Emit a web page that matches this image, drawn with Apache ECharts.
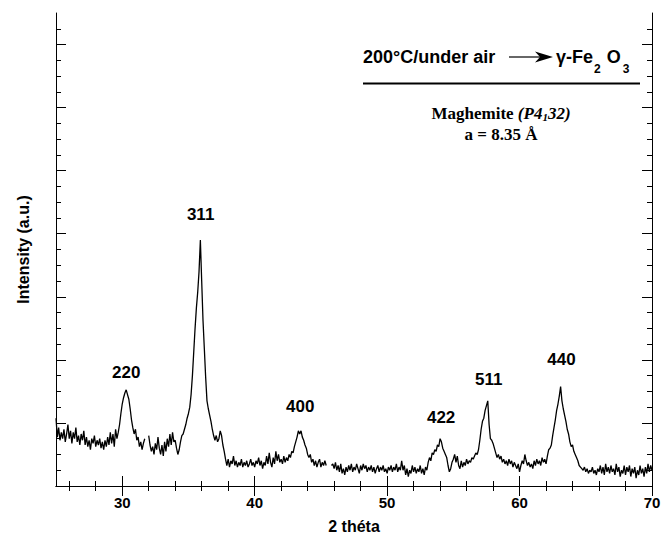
<!DOCTYPE html>
<html>
<head>
<meta charset="utf-8">
<script src="https://cdn.jsdelivr.net/npm/echarts@6/dist/echarts.min.js"></script>
<style>
  html, body { margin: 0; padding: 0; background: #fff; }
  #chart_xrd { width: 664px; height: 542px; }
</style>
</head>
<body>
<div id="chart_xrd"></div>
<script>
// 2θ grid of the scan (degrees)
const thetaStart = 25;
const thetaStep = 0.1;
// intensity in a.u. (1 unit = 1 minor tick), null = gap in the recorded scan
const intensity = [
  4.3, 3.1, 3.7, 2.9, 3.4, 3.0, 3.6, 2.8, 3.3, 3.9, // 25
  3.0, 3.5, 2.7, 3.4, 3.0, 3.7, 2.8, 3.2, 2.6, 3.3, // 26
  2.9, 3.5, 2.6, 3.1, 2.5, 2.9, 2.3, 3.0, 2.7, 3.2, // 27
  2.5, 2.9, 2.6, 3.0, 2.4, 2.8, 2.3, 2.9, 2.5, 3.1, // 28
  2.6, 3.4, 2.7, 3.3, 2.5, 3.6, 3.0, 3.4, 3.9, 4.6, // 29
  5.2, 5.6, 5.9, 6.1, 5.8, 5.5, 4.9, 4.2, 3.7, 3.3, // 30
  3.6, 2.9, 3.1, 2.5, 2.8, 2.3, 2.7, 3.0, null, null, // 31
  3.2, 2.6, 2.2, 2.5, 2.0, 2.7, 2.3, 3.1, 2.4, 2.0, // 32
  2.6, 1.9, 2.8, 2.2, 3.0, 2.5, 3.3, 2.6, 3.4, 2.8, // 33
  2.9, 2.4, 2.0, 2.3, 2.8, 3.2, 3.3, 3.6, 3.9, 4.3, // 34
  4.6, 5.0, 5.8, 7.0, 8.5, 10.0, 11.3, 12.3, 13.6, 15.6, // 35
  13.0, 10.5, 8.7, 6.9, 5.4, 4.9, 4.5, 4.1, 3.6, 3.2, // 36
  2.9, 3.2, 2.8, 3.0, 3.5, 3.2, 2.6, 2.2, 1.7, 1.3, // 37
  1.7, 1.2, 1.6, 1.4, 1.9, 1.3, 1.6, 1.2, 1.5, 1.3, // 38
  1.7, 1.2, 1.5, 1.3, 1.6, 1.2, 1.4, 1.7, 1.3, 1.5, // 39
  1.2, 1.6, 1.4, 1.8, 1.3, 1.6, 1.1, 1.5, 1.3, 1.9, // 40
  1.4, 2.1, 1.5, 1.2, 1.8, 1.4, 2.2, 1.6, 2.0, 1.5, // 41
  1.7, 1.4, 1.9, 1.5, 1.8, 1.6, 2.0, 1.8, 2.2, 2.1, // 42
  2.5, 2.8, 3.1, 3.5, 3.3, 3.5, 3.1, 2.9, 2.6, 2.4, // 43
  2.0, 1.8, 2.0, 1.5, 1.7, 1.3, 1.6, 1.2, 1.5, 1.7, // 44
  1.2, 1.5, 1.3, 1.6, 1.3, null, null, null, 1.3, 1.4, // 45
  1.1, 1.5, 1.0, 1.3, 0.9, 1.4, 0.8, 1.1, 0.7, 1.2, // 46
  0.9, 1.3, 1.0, 1.4, 0.9, 1.2, 1.0, 1.4, 1.1, 0.8, // 47
  1.3, 1.0, 1.4, 1.1, 1.3, 0.9, 1.2, 1.0, 1.3, 0.9, // 48
  1.2, 0.8, 1.1, 1.3, 0.9, 1.2, 1.0, 1.3, 0.9, 1.1, // 49
  0.8, 1.2, 1.0, 1.3, 0.9, 1.2, 1.0, 1.4, 0.9, 1.2, // 50
  1.0, 1.6, 1.0, 1.3, 0.7, 1.1, 0.6, 1.0, 0.8, 1.3, // 51
  0.9, 1.2, 0.8, 1.1, 0.9, 1.3, 0.8, 1.1, 0.7, 1.2, // 52
  1.0, 1.5, 1.8, 1.6, 2.1, 2.0, 2.3, 2.2, 2.6, 2.5, // 53
  3.0, 2.8, 2.4, 2.2, 2.0, 1.8, 1.3, 0.9, 1.1, 1.5, // 54
  1.7, 2.0, 1.5, 1.9, 1.3, 1.1, 1.6, 1.2, 1.5, 1.3, // 55
  1.7, 1.4, 1.6, 1.5, 1.8, 1.7, 1.9, 2.1, 2.0, 2.3, // 56
  2.9, 3.6, 4.1, 4.3, 4.8, 5.1, 5.4, 3.9, 3.0, 2.9, // 57
  2.7, 2.4, 2.1, 1.8, 2.0, 1.7, 1.9, 1.5, 1.7, 1.4, // 58
  1.6, 1.3, 1.7, 1.4, 1.6, 1.2, 1.5, 1.3, 1.1, 1.4, // 59
  0.9, 1.3, 1.6, 1.4, 2.0, 1.6, 1.3, 1.5, 1.2, 1.4, // 60
  1.1, 1.6, 1.3, 1.7, 1.4, 1.6, 1.3, 1.8, 1.5, 1.7, // 61
  1.4, 1.9, 2.3, 2.4, 2.6, 3.2, 3.7, 4.2, 4.8, 5.2, // 62
  5.7, 6.3, 5.4, 4.9, 4.5, 4.1, 3.6, 3.3, 2.8, 2.5, // 63
  2.6, 2.2, 2.0, 1.8, 1.6, 1.3, 1.2, 1.1, 1.0, 1.2, // 64
  0.9, 1.1, 0.8, 1.0, 0.9, 1.2, 0.8, 1.0, 0.7, 1.1, // 65
  0.9, 1.3, 0.8, 1.2, 0.7, 1.4, 0.9, 1.2, 0.8, 1.3, // 66
  0.9, 1.1, 0.7, 1.4, 0.9, 1.2, 0.6, 1.0, 0.8, 1.3, // 67
  0.7, 1.2, 0.9, 1.3, 0.6, 1.1, 0.8, 1.2, 0.5, 1.0, // 68
  0.7, 1.3, 0.8, 1.1, 0.6, 1.2, 0.8, 1.4, 0.9, 1.3, // 69
  1.0                                                // 70
];

// Miller indices written above the peaks, and where their labels sit
const peakNames = ["220", "311", "400", "422", "511", "440"];
const peakLabelTheta = [30.3, 35.92, 43.44, 54.08, 57.68, 63.16];
const peakLabelY = [7.17, 17.23, 5.06, 4.32, 6.75, 8.03];

// tick positions
const xMajorTicks = [30, 40, 50, 60, 70];
const xMinorTicks = [26, 28, 32, 34, 36, 38, 42, 44, 46, 48, 52, 54, 56, 58, 62, 64, 66, 68];
const yMajorTicks = [4, 8, 12, 16, 20, 24, 28];
const yMinorTicks = [1, 2, 3, 5, 6, 7, 9, 10, 11, 13, 14, 15, 17, 18, 19, 21, 22, 23, 25, 26, 27, 29];

const SANS = '"Liberation Sans", Arial, sans-serif';
const SERIF = '"Liberation Serif", "Times New Roman", serif';

const chart = echarts.init(document.getElementById("chart_xrd"), null, { renderer: "svg" });

const scan = intensity.map((v, i) => [+(thetaStart + i * thetaStep).toFixed(1), v === null ? "-" : v]);

function xAx(pos, ticks, len, withLine, withLabels) {
  return {
    type: "value", position: pos, min: 25, max: 70,
    splitLine: { show: false },
    axisLine: { show: withLine, lineStyle: { color: "#000", width: 1 } },
    axisTick: { show: true, inside: true, length: len, customValues: ticks, lineStyle: { color: "#000", width: 1 } },
    axisLabel: withLabels
      ? { show: true, customValues: ticks, margin: 9, color: "#000", fontSize: 15, fontWeight: "bold", fontFamily: SANS }
      : { show: false }
  };
}
function yAx(pos, ticks, len, withLine) {
  return {
    type: "value", position: pos, min: 0, max: 30,
    splitLine: { show: false },
    axisLine: { show: withLine, onZero: false, lineStyle: { color: "#000", width: 1 } },
    axisTick: { show: true, inside: true, length: len, customValues: ticks, lineStyle: { color: "#000", width: 1 } },
    axisLabel: { show: false }
  };
}

const xAxes = [
  xAx("bottom", xMajorTicks, 10, true, true),
  xAx("bottom", xMinorTicks, 5, false, false),
  xAx("top", xMajorTicks, 10, true, false),
  xAx("top", xMinorTicks, 5, false, false)
];
xAxes[0].name = "2 théta";
xAxes[0].nameLocation = "middle";
xAxes[0].nameGap = 32;
xAxes[0].nameTextStyle = { color: "#000", fontSize: 16, fontWeight: "bold", fontFamily: SANS };

const yAxes = [
  yAx("left", yMajorTicks, 10, true),
  yAx("left", yMinorTicks, 5, false),
  yAx("right", yMajorTicks, 10, true),
  yAx("right", yMinorTicks, 5, false)
];
yAxes[0].name = "Intensity (a.u.)";
yAxes[0].nameLocation = "middle";
yAxes[0].nameGap = 25;
yAxes[0].nameTextStyle = { color: "#000", fontSize: 16, fontWeight: "bold", fontFamily: SANS };

// annotation block in the upper right corner
const ctx = document.createElement("canvas").getContext("2d");
function textW(font, s) { ctx.font = font; return ctx.measureText(s).width; }

const fMain = "bold 18px " + SANS;
const fSub = "bold 12px " + SANS;
const fSerif = "bold 17px " + SERIF;
const fSerifIt = "italic bold 17px " + SERIF;
const fSerifSub = "italic bold 11px " + SERIF;

function txt(x, y, s, font, align) {
  return { type: "text", x: x, y: y, silent: true,
    style: { text: s, font: font, fill: "#000", align: align || "left", verticalAlign: "middle" } };
}

// γ-Fe2O3 laid out piece by piece so the indices sit low
const formulaPieces = [["γ-Fe", fMain, 0, 1], ["2", fSub, 12, 6], ["O", fMain, 0, 2], ["3", fSub, 12, 0]];
let fx = 556;
const formulaGraphics = formulaPieces.map(p => {
  const g = txt(fx, 57 + p[2], p[0], p[1]);
  fx += textW(p[1], p[0]) + p[3];
  return g;
});

const maghPieces = [["Maghemite ", fSerif, 0], ["(P4", fSerifIt, 0], ["1", fSerifSub, 3], ["32)", fSerifIt, 0]];
const maghWidth = maghPieces.reduce((s, p) => s + textW(p[1], p[0]), 0);
let mx = 501 - maghWidth / 2;
const maghGraphics = maghPieces.map(p => {
  const g = txt(mx, 113.5 + p[2], p[0], p[1]);
  mx += textW(p[1], p[0]);
  return g;
});

const graphics = [
  txt(363, 57, "200°C/under air", fMain),
  { type: "line", silent: true, shape: { x1: 509, y1: 57, x2: 541, y2: 57 }, style: { stroke: "#000", lineWidth: 1.2 } },
  { type: "polygon", silent: true, shape: { points: [[535, 51.5], [553, 57], [535, 62.5], [540, 57]] }, style: { fill: "#000" } },
  ...formulaGraphics,
  { type: "line", silent: true, shape: { x1: 363, y1: 83.5, x2: 640, y2: 83.5 }, style: { stroke: "#000", lineWidth: 2 } },
  ...maghGraphics,
  txt(501, 134, "a = 8.35 Å", fSerif, "center")
];

chart.setOption({
  animation: false,
  backgroundColor: "#fff",
  grid: { left: 56, right: 12, top: 13, bottom: 56, containLabel: false },
  xAxis: xAxes,
  yAxis: yAxes,
  series: [
    {
      name: "XRD",
      type: "line",
      xAxisIndex: 0, yAxisIndex: 0,
      data: scan,
      showSymbol: false,
      connectNulls: false,
      lineStyle: { color: "#000", width: 1.3 },
      silent: true
    },
    {
      name: "hkl",
      type: "scatter",
      xAxisIndex: 0, yAxisIndex: 0,
      data: peakNames.map((n, i) => ({ name: n, value: [peakLabelTheta[i], peakLabelY[i]] })),
      symbolSize: 1,
      itemStyle: { color: "rgba(0,0,0,0)", opacity: 1 },
      label: { show: true, position: "inside", formatter: "{b}", color: "#000",
        textBorderWidth: 0, fontSize: 17, fontWeight: "bold", fontFamily: SANS },
      silent: true
    }
  ],
  graphic: graphics
});
</script>
</body>
</html>
